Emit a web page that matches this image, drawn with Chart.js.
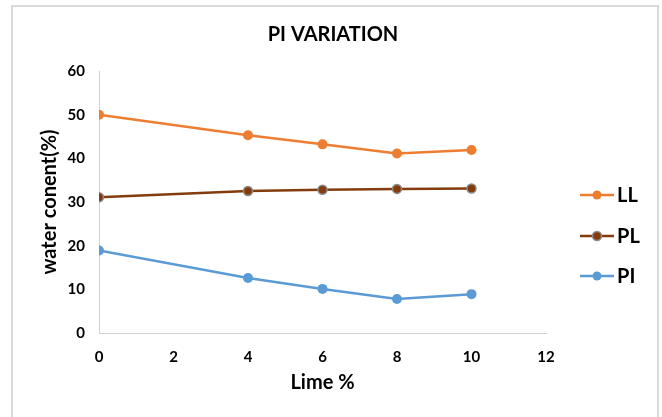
<!DOCTYPE html>
<html>
<head>
<meta charset="utf-8">
<script src="https://cdn.jsdelivr.net/npm/chart.js@4.4.1/dist/chart.umd.min.js"></script>
<style>
  html, body { margin: 0; padding: 0; background: #fff; }
  #wrap { position: relative; width: 662px; height: 417px; }
  #frame { position: absolute; left: 11px; top: 5px; width: 644px; height: 420px;
           border: 2px solid #d9d9d9; border-bottom: none; }
</style>
</head>
<body>
<div id="wrap">
  <div id="frame"></div>
  <canvas id="piChart" width="662" height="417"></canvas>
</div>
<script>
// lime content (%) and water contents (%)
let lime = [0, 4, 6, 8, 10];
let ll = [50, 45.3, 43.2, 41.1, 41.9];
let pl = [31.1, 32.5, 32.8, 33, 33.1];
let pi = [18.9, 12.6, 10.1, 7.8, 8.9];
let xTicks = [0, 2, 4, 6, 8, 10, 12];
let yTicks = [0, 10, 20, 30, 40, 50, 60];

const FONT = "Lato, 'Open Sans', sans-serif";

function toPoints(xs, ys){
    let pts = [];
    for (let i = 0; i < xs.length; i++) {
        pts.push({x: xs[i], y: ys[i]});
    }
    return pts;
}

function series(label, data, color, border){
    return {
        label: label,
        data: toPoints(lime, data),
        borderColor: color,
        backgroundColor: color,
        borderWidth: 2.5,
        pointRadius: border ? 4.5 : 5,
        pointHoverRadius: 5,
        pointBorderColor: border || color,
        pointBorderWidth: border ? 1.5 : 0,
        tension: 0
    };
}

// title across the whole canvas and the legend on the right
const decorations = {
    id: 'decorations',
    afterDraw(chart){
        const ctx = chart.ctx;
        ctx.save();
        ctx.fillStyle = '#000';
        ctx.font = 'bold 20px ' + FONT;
        ctx.textAlign = 'center';
        ctx.textBaseline = 'middle';
        ctx.fillText('PI VARIATION', 333, 35);

        const rows = [195, 236, 276];
        chart.data.datasets.forEach((ds, i) => {
            const y = rows[i];
            ctx.strokeStyle = ds.borderColor;
            ctx.lineWidth = 2.5;
            ctx.beginPath();
            ctx.moveTo(580, y);
            ctx.lineTo(614, y);
            ctx.stroke();
            ctx.beginPath();
            ctx.arc(597, y, 4.5, 0, Math.PI * 2);
            ctx.fillStyle = ds.backgroundColor;
            ctx.fill();
            if (ds.pointBorderWidth) {
                ctx.lineWidth = ds.pointBorderWidth;
                ctx.strokeStyle = ds.pointBorderColor;
                ctx.stroke();
            }
            ctx.fillStyle = '#000';
            ctx.font = 'bold 20px ' + FONT;
            ctx.textAlign = 'left';
            ctx.fillText(ds.label, 617, y + 1);
        });
        ctx.restore();
    }
};

new Chart('piChart', {
    type: 'line',
    data: {
        datasets: [
            series('LL', ll, '#ED7D31'),
            series('PL', pl, '#843C0C', '#8c8c8c'),
            series('PI', pi, '#5B9BD5')
        ]
    },
    options: {
        responsive: false,
        animation: false,
        layout: { padding: { left: 12, right: 116, top: 71, bottom: 14 } },
        plugins: {
            legend: { display: false },
            tooltip: { enabled: false },
            title: { display: false }
        },
        scales: {
            x: {
                type: 'linear',
                min: 0,
                max: 12,
                afterFit(s){ s.height = 70; },
                afterBuildTicks(s){ s.ticks = xTicks.map(v => ({value: v})); },
                grid: { display: false, drawTicks: false },
                border: { display: true, color: '#d0d0d0', width: 1 },
                ticks: { color: '#000', padding: 15, maxRotation: 0,
                         font: { family: FONT, size: 15, weight: 'bold' } },
                title: { display: true, text: 'Lime %', color: '#000',
                         padding: { top: 0, bottom: 8 },
                         font: { family: FONT, size: 20, weight: 'bold' } }
            },
            y: {
                min: 0,
                max: 60,
                afterFit(s){ s.width = 87; },
                afterBuildTicks(s){ s.ticks = yTicks.map(v => ({value: v})); },
                grid: { display: false, drawTicks: false },
                border: { display: true, color: '#d0d0d0', width: 1 },
                ticks: { color: '#000', padding: 14,
                         font: { family: FONT, size: 15, weight: 'bold' } },
                title: { display: true, text: 'water conent(%)', color: '#000',
                         padding: { top: 26, bottom: 0 },
                         font: { family: FONT, size: 20, weight: 'bold' } }
            }
        }
    },
    plugins: [decorations]
});
</script>
</body>
</html>
